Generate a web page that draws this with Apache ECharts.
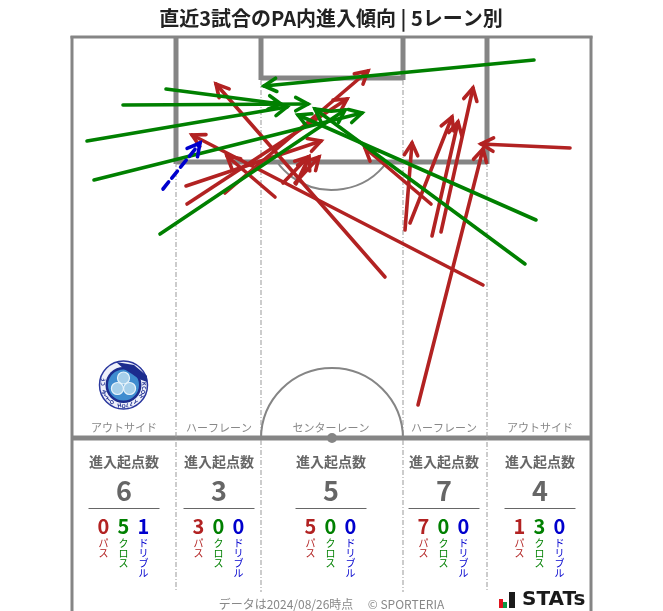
<!DOCTYPE html>
<html>
<head>
<meta charset="utf-8">
<style>
	html, body { margin: 0; padding: 0; background: #fff; }
	#main { width: 663px; height: 611px; }
</style>
</head>
<body>
<div id="main"></div>
<script src="https://cdn.jsdelivr.net/npm/echarts@6/dist/echarts.min.js"></script>
<script>
	// each arrow: from x, from y, to x, to y (pitch frame units, origin top left of the frame)
	const passArrows = [
		[114, 149, 249, 104], [115, 167, 275, 62], [153, 156, 296, 34],
		[203, 160, 155, 119], [313, 240, 144, 47], [211, 146, 236, 120],
		[223, 146, 247, 120], [224, 147, 237, 120],
		[333, 193, 340, 106], [338, 186, 380, 80], [360, 199, 386, 85],
		[369, 195, 401, 51], [346, 368, 411, 112], [411, 248, 120, 98],
		[359, 167, 293, 111], [498, 111, 409, 107]
	]
	const crossArrows = [
		[94, 52, 209, 67], [51, 68, 236, 67], [15, 104, 215, 70],
		[22, 143, 290, 76], [88, 197, 273, 73],
		[462, 23, 192, 49], [464, 183, 226, 78], [453, 227, 243, 72]
	]
	const dribbleArrows = [[91, 152, 128, 106]]

	const laneNames = ['アウトサイド', 'ハーフレーン', 'センターレーン', 'ハーフレーン', 'アウトサイド']
	const totals = [6, 3, 5, 7, 4]
	const passCounts = [0, 3, 5, 7, 1]
	const crossCounts = [5, 0, 0, 0, 3]
	const dribbleCounts = [1, 0, 0, 0, 0]

	const laneCenters = [124, 219, 331, 444, 540]
	const FONT = '"Noto Sans CJK JP", "Noto Sans", sans-serif'
	const RED = '#b22222', GREEN = '#008000', BLUE = '#0000cd', LINE = '#858585'

	function line(x1, y1, x2, y2, width, color, dash) {
		return {
			type: 'line', silent: true,
			shape: { x1, y1, x2, y2 },
			style: { stroke: color || LINE, lineWidth: width, lineDash: dash || null }
		}
	}
	function text(str, x, y, size, color, weight, lineHeight) {
		return {
			type: 'text', silent: true, x, y,
			style: {
				text: str, fontSize: size, fontFamily: FONT, fill: color,
				fontWeight: weight || 'normal', lineHeight: lineHeight || size,
				align: 'center', verticalAlign: 'middle'
			}
		}
	}
	// 縦書きの代わりに一文字ずつ改行
	function vertical(str) {
		return str.split('').join('\n')
	}

	function pitch() {
		const dash = [5, 2, 1, 2]
		const els = [
			line(72, 36, 72, 611, 3), line(591, 36, 591, 611, 3), line(70.5, 37, 592.5, 37, 3),
			line(176, 37, 176, 164, 5), line(487, 37, 487, 164, 5), line(176, 162, 487, 162, 5),
			line(261, 37, 261, 80, 5), line(403, 37, 403, 80, 5), line(261, 78, 403, 78, 5),
			line(72, 438, 591, 438, 5),
			line(176, 162, 176, 592, 1, '#999', dash), line(261, 80, 261, 592, 1, '#999', dash),
			line(403, 80, 403, 592, 1, '#999', dash), line(487, 162, 487, 592, 1, '#999', dash),
			{
				type: 'arc', silent: true,
				shape: { cx: 332, cy: 122, r: 68, startAngle: 0.62, endAngle: Math.PI - 0.62 },
				style: { stroke: LINE, lineWidth: 2, fill: null }
			},
			{
				type: 'arc', silent: true,
				shape: { cx: 332, cy: 439, r: 71, startAngle: Math.PI, endAngle: Math.PI * 2 },
				style: { stroke: LINE, lineWidth: 2, fill: null }
			},
			{ type: 'circle', silent: true, shape: { cx: 332, cy: 438, r: 5 }, style: { fill: LINE } }
		]
		return els
	}

	function laneStats() {
		const els = []
		laneCenters.forEach((cx, i) => {
			els.push(text(laneNames[i], cx, 428, 11, '#888'))
			els.push(text('進入起点数', cx, 462, 14, '#666', 'bold'))
			els.push(text(String(totals[i]), cx, 491, 27, '#666', 'bold'))
			els.push(line(cx - 35.5, 508.5, cx + 35.5, 508.5, 1, '#666'))
			const cols = [
				[passCounts[i], 'パス', RED, -20.5],
				[crossCounts[i], 'クロス', GREEN, -0.5],
				[dribbleCounts[i], 'ドリブル', BLUE, 19.5]
			]
			cols.forEach(c => {
				els.push(text(String(c[0]), cx + c[3], 526, 20, c[2], 'bold'))
				els.push({
					type: 'text', silent: true, x: cx + c[3], y: 538,
					style: {
						text: vertical(c[1]), fontSize: 10, lineHeight: 10, fontFamily: FONT,
						fill: c[2], align: 'center', verticalAlign: 'top'
					}
				})
			})
		})
		return els
	}

	function logo() {
		const cx = 123.5, cy = 385
		const els = [
			{ type: 'circle', silent: true, shape: { cx, cy, r: 24 }, style: { fill: '#eef0fa', stroke: '#2a379e', lineWidth: 1.5 } },
			{ type: 'circle', silent: true, shape: { cx, cy, r: 18 }, style: { fill: '#1c2c8e' } },
			{ type: 'circle', silent: true, shape: { cx, cy, r: 15.5 }, style: { fill: '#3f8ccf' } },
			{
				type: 'polygon', silent: true,
				shape: { points: [[116, 362], [134, 365], [147, 376], [147, 382], [139, 379], [132, 374], [124, 369]] },
				style: { fill: '#1c2c8e' }
			}
		]
		// 三つ葉
		for (let i = 0; i < 3; i++) {
			const a = -Math.PI / 2 + i * Math.PI * 2 / 3
			els.push({
				type: 'circle', silent: true,
				shape: { cx: cx + Math.cos(a) * 7, cy: cy + Math.sin(a) * 7, r: 6 },
				style: { fill: '#a6cfea', stroke: '#e8f4fb', lineWidth: 1.2 }
			})
		}
		const ring = 'FC MITO HOLLY HOCK'
		ring.split('').forEach((ch, i) => {
			const a = Math.PI * 1.08 - i * (Math.PI * 1.1 / (ring.length - 1))
			els.push({
				type: 'text', silent: true,
				x: cx + Math.cos(a) * 20.8, y: cy + Math.sin(a) * 20.8,
				rotation: a - Math.PI / 2,
				style: { text: ch, fontSize: 5.5, fontWeight: 'bold', fontFamily: FONT, fill: '#1c2c8e', align: 'center', verticalAlign: 'middle' }
			})
		})
		return els
	}

	function footer() {
		return [
			text('データは2024/08/26時点', 286, 604, 12, '#888'),
			text('© SPORTERIA', 406, 604, 12, '#888'),
			{ type: 'rect', silent: true, shape: { x: 499, y: 599, width: 4, height: 9 }, style: { fill: '#e0141e' } },
			{ type: 'rect', silent: true, shape: { x: 503, y: 602, width: 4, height: 6 }, style: { fill: '#0a9a46' } },
			{ type: 'rect', silent: true, shape: { x: 509, y: 592, width: 6, height: 16 }, style: { fill: '#1a1a1a' } },
			{
				type: 'text', silent: true, x: 522, y: 600,
				style: {
					text: 'STATs', fontSize: 20, fontWeight: 'bold', fontFamily: '"DejaVu Sans", sans-serif',
					fill: '#1a1a1a', align: 'left', verticalAlign: 'middle'
				}
			}
		]
	}

	function arrowSeries(name, data, color, dash) {
		return {
			name, type: 'custom', coordinateSystem: 'cartesian2d', clip: false, silent: true,
			encode: { x: [0, 2], y: [1, 3] },
			data,
			renderItem(params, api) {
				const a = api.coord([api.value(0), api.value(1)])
				const b = api.coord([api.value(2), api.value(3)])
				const ang = Math.atan2(b[1] - a[1], b[0] - a[0])
				const head = 14, spread = 0.5
				const left = [b[0] - head * Math.cos(ang - spread), b[1] - head * Math.sin(ang - spread)]
				const right = [b[0] - head * Math.cos(ang + spread), b[1] - head * Math.sin(ang + spread)]
				return {
					type: 'group',
					children: [
						{
							type: 'line',
							shape: { x1: a[0], y1: a[1], x2: b[0], y2: b[1] },
							style: { stroke: color, lineWidth: 3.6, lineDash: dash || null, lineCap: 'round' }
						},
						{
							type: 'polyline',
							shape: { points: [left, b, right] },
							style: { stroke: color, lineWidth: 3.6, fill: null, lineJoin: 'miter', lineCap: 'round' }
						}
					]
				}
			}
		}
	}

	const myChart = echarts.init(document.getElementById('main'), null, { renderer: 'canvas' })
	myChart.setOption({
		animation: false,
		backgroundColor: '#fff',
		title: {
			text: '直近3試合のPA内進入傾向 | 5レーン別',
			left: 326, top: 3, textAlign: 'center',
			textStyle: { fontSize: 20, fontWeight: 'bold', color: '#222', fontFamily: FONT }
		},
		grid: { left: 72, top: 37, width: 520, height: 401 },
		xAxis: { type: 'value', min: 0, max: 520, show: false },
		yAxis: { type: 'value', min: 0, max: 401, inverse: true, show: false },
		graphic: { elements: [...pitch(), ...logo(), ...laneStats(), ...footer()] },
		series: [
			arrowSeries('パス', passArrows, RED),
			arrowSeries('クロス', crossArrows, GREEN),
			arrowSeries('ドリブル', dribbleArrows, BLUE, [9, 5])
		]
	})
</script>
</body>
</html>
